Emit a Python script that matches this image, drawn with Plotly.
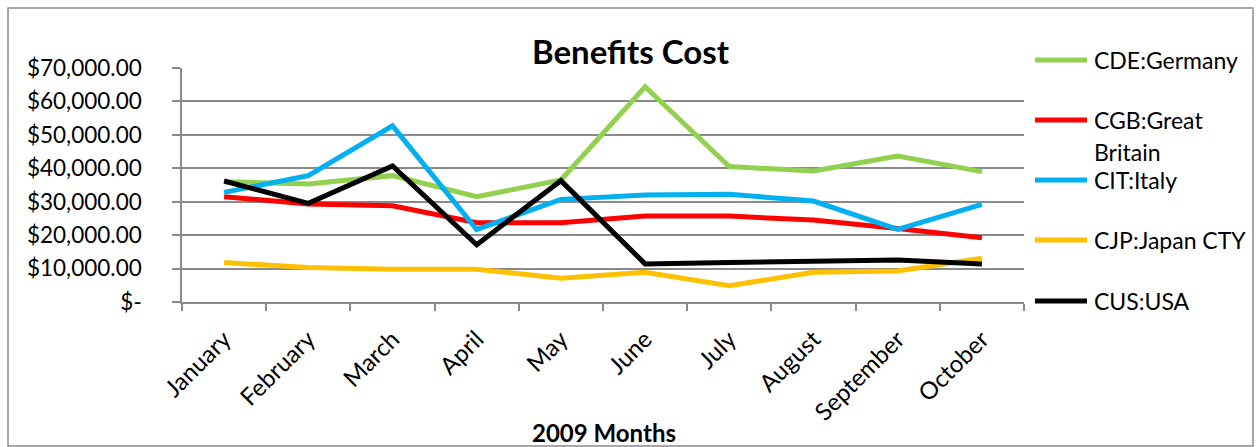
import plotly.graph_objects as go

months = ["January", "February", "March", "April", "May", "June", "July",
          "August", "September", "October"]
series_names = ["CDE:Germany", "CGB:Great Britain", "CIT:Italy", "CJP:Japan CTY", "CUS:USA"]
legend_labels = ["CDE:Germany", "CGB:Great<br>Britain", "CIT:Italy", "CJP:Japan CTY", "CUS:USA"]
germany = [36000, 35300, 37800, 31500, 36500, 64400, 40500, 39200, 43700, 39000]
great_britain = [31500, 29300, 28800, 23700, 23700, 25700, 25700, 24500, 22000, 19200]
italy = [32800, 37800, 52700, 21700, 30700, 32000, 32200, 30200, 21700, 29200]
japan = [11800, 10300, 9800, 9800, 7100, 8900, 4900, 8900, 9300, 13100]
usa = [36200, 29500, 40700, 17100, 36300, 11400, 11800, 12300, 12600, 11400]
series_values = [germany, great_britain, italy, japan, usa]
colors = ["#92D050", "#FF0000", "#00B0F0", "#FFC000", "#000000"]
y_ticks = [0, 10000, 20000, 30000, 40000, 50000, 60000, 70000]
y_tick_labels = ["$-", "$10,000.00", "$20,000.00", "$30,000.00", "$40,000.00",
                 "$50,000.00", "$60,000.00", "$70,000.00"]

FONT = "Lato"
W, H = 1257, 447
L, R, T, B = 182, 233, 68, 145
pw, ph = W - L - R, H - T - B


def px(x):
    return (x - L) / pw


def py(y):
    return (H - B - y) / ph


fig = go.Figure()
for name, vals, col in zip(series_names, series_values, colors):
    fig.add_trace(go.Scatter(x=months, y=vals, mode="lines", name=name,
                             line=dict(color=col, width=5), showlegend=False))

shapes = [dict(type="rect", xref="paper", yref="paper", x0=px(8), x1=px(1253),
               y0=py(446), y1=py(8), line=dict(color="#8a8a8a", width=1.5),
               layer="below")]
annotations = [
    dict(text="<b>Benefits Cost</b>", xref="paper", yref="paper", x=px(631), y=py(51),
         showarrow=False, font=dict(family=FONT, size=33, color="black"),
         xanchor="center", yanchor="middle"),
    dict(text="<b>2009 Months</b>", xref="paper", yref="paper", x=px(604), y=py(432),
         showarrow=False, font=dict(family=FONT, size=24, color="black"),
         xanchor="center", yanchor="middle"),
]

legend_y = [60, 120, 180, 240, 301]
for lab, col, ly in zip(legend_labels, colors, legend_y):
    shapes.append(dict(type="line", xref="paper", yref="paper", x0=px(1035), x1=px(1087),
                       y0=py(ly), y1=py(ly), line=dict(color=col, width=5)))
    for i, part in enumerate(lab.split("<br>")):
        annotations.append(dict(text=part, xref="paper", yref="paper", x=px(1092),
                                y=py(ly + i * 32), showarrow=False, xanchor="left",
                                yanchor="middle",
                                font=dict(family=FONT, size=23, color="black")))

fig.update_layout(
    width=W, height=H,
    margin=dict(l=L, r=R, t=T, b=B, pad=0),
    paper_bgcolor="white", plot_bgcolor="white",
    shapes=shapes, annotations=annotations,
    font=dict(family=FONT, color="black"),
)
fig.update_xaxes(
    type="category", range=[-0.5, 9.5], tickson="boundaries",
    ticks="outside", ticklen=7, tickwidth=1.5, tickcolor="#8a8a8a",
    showline=True, linecolor="#8a8a8a", linewidth=1.5,
    showgrid=False, tickangle=-45, ticklabelstandoff=12,
    tickfont=dict(family=FONT, size=24, color="black"),
)
fig.update_yaxes(
    range=[0, 70000], tickvals=y_ticks, ticktext=y_tick_labels,
    ticks="outside", ticklen=8, tickwidth=1.5, tickcolor="#8a8a8a",
    showline=True, linecolor="#8a8a8a", linewidth=1.5,
    showgrid=True, gridcolor="#8a8a8a", gridwidth=1.5, zeroline=False,
    tickfont=dict(family=FONT, size=22.5, color="black"), ticklabelstandoff=26,
)

fig.write_html("out.html")
